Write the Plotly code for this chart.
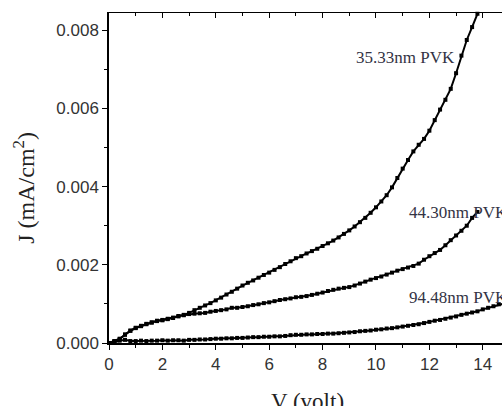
import plotly.graph_objects as go

# Voltage grids (V)
v_a = [0.0, 0.2, 0.4, 0.6, 0.8, 1.0, 1.2, 1.4, 1.6, 1.8, 2.0, 2.2, 2.4, 2.6, 2.8, 3.0, 3.2, 3.4, 3.6, 3.8,
       4.0, 4.2, 4.4, 4.6, 4.8, 5.0, 5.2, 5.4, 5.6, 5.8, 6.0, 6.2, 6.4, 6.6, 6.8, 7.0, 7.2, 7.4, 7.6, 7.8,
       8.0, 8.2, 8.4, 8.6, 8.8, 9.0, 9.2, 9.4, 9.6, 9.8, 10.0, 10.2, 10.4, 10.6, 10.8, 11.0, 11.2, 11.4, 11.6, 11.8,
       12.0, 12.2, 12.4, 12.6, 12.8, 13.0, 13.2, 13.4, 13.6, 13.8]
v_c = v_a + [14.0, 14.2, 14.4, 14.6, 14.8, 15.0]

# Current density J (mA/cm^2)
j_35 = [0.00000, 0.00004, 0.00010, 0.00022, 0.00032, 0.00039, 0.00044, 0.00048, 0.00053, 0.00056,
        0.00059, 0.00062, 0.00065, 0.00068, 0.00072, 0.00077, 0.00084, 0.00090, 0.00096, 0.00102,
        0.00109, 0.00116, 0.00124, 0.00131, 0.00139, 0.00147, 0.00154, 0.00160, 0.00167, 0.00174,
        0.00180, 0.00187, 0.00194, 0.00202, 0.00209, 0.00217, 0.00222, 0.00229, 0.00235, 0.00241,
        0.00248, 0.00255, 0.00262, 0.00270, 0.00279, 0.00288, 0.00298, 0.00309, 0.00320, 0.00333,
        0.00347, 0.00362, 0.00378, 0.00398, 0.00422, 0.00446, 0.00468, 0.00490, 0.00507, 0.00522,
        0.00543, 0.00570, 0.00597, 0.00622, 0.00650, 0.00690, 0.00735, 0.00775, 0.00808, 0.00842]

j_44 = [0.00000, 0.00005, 0.00011, 0.00021, 0.00031, 0.00038, 0.00043, 0.00049, 0.00052, 0.00057,
        0.00058, 0.00061, 0.00064, 0.00069, 0.00071, 0.00074, 0.00075, 0.00076, 0.00077, 0.00080,
        0.00082, 0.00084, 0.00086, 0.00090, 0.00090, 0.00092, 0.00094, 0.00097, 0.00099, 0.00102,
        0.00104, 0.00107, 0.00110, 0.00112, 0.00114, 0.00117, 0.00118, 0.00120, 0.00123, 0.00126,
        0.00129, 0.00133, 0.00136, 0.00139, 0.00141, 0.00143, 0.00147, 0.00152, 0.00157, 0.00162,
        0.00166, 0.00170, 0.00175, 0.00180, 0.00185, 0.00189, 0.00193, 0.00197, 0.00203, 0.00213,
        0.00222, 0.00230, 0.00238, 0.00250, 0.00263, 0.00275, 0.00287, 0.00300, 0.00320, 0.00335]

j_94 = [0.00000, 0.00003, 0.00006, 0.00008, 0.00005, 0.00005, 0.00006, 0.00005, 0.00006, 0.00006,
        0.00007, 0.00006, 0.00007, 0.00007, 0.00006, 0.00008, 0.00008, 0.00009, 0.00009, 0.00010,
        0.00011, 0.00011, 0.00012, 0.00012, 0.00013, 0.00013, 0.00014, 0.00015, 0.00015, 0.00016,
        0.00016, 0.00017, 0.00017, 0.00018, 0.00020, 0.00021, 0.00021, 0.00022, 0.00022, 0.00023,
        0.00023, 0.00024, 0.00024, 0.00025, 0.00026, 0.00027, 0.00028, 0.00030, 0.00031, 0.00032,
        0.00034, 0.00035, 0.00037, 0.00038, 0.00040, 0.00042, 0.00044, 0.00046, 0.00048, 0.00051,
        0.00054, 0.00057, 0.00059, 0.00062, 0.00065, 0.00068, 0.00072, 0.00075, 0.00078, 0.00081,
        0.00086, 0.00090, 0.00094, 0.00099, 0.00101, 0.00103]

labels = ["35.33nm PVK", "44.30nm PVK", "94.48nm PVK"]
x_ticks = [0, 2, 4, 6, 8, 10, 12, 14]
y_ticks = [0.000, 0.002, 0.004, 0.006, 0.008]
y_tick_text = ["0.000", "0.002", "0.004", "0.006", "0.008"]

fig = go.Figure()
for v, j in [(v_a, j_35), (v_a, j_44), (v_c, j_94)]:
    fig.add_trace(go.Scatter(
        x=v, y=j, mode="lines+markers",
        line=dict(color="black", width=2),
        marker=dict(symbol="square", size=4, color="black"),
        showlegend=False, cliponaxis=False,
    ))

# invisible trace on top axis for inward ticks
fig.add_trace(go.Scatter(x=[0], y=[0], xaxis="x2", mode="markers",
                         marker=dict(opacity=0), showlegend=False, hoverinfo="skip"))

tick_font = dict(family="Liberation Sans, Arial, sans-serif", size=17, color="#333333")
serif = "Liberation Serif, Times New Roman, serif"

fig.update_layout(
    width=502, height=406,
    margin=dict(l=109, r=0, t=13, b=63),
    paper_bgcolor="white", plot_bgcolor="white",
    xaxis=dict(
        range=[0, 14.72], tickvals=x_ticks, ticks="outside", ticklen=5, tickwidth=1.3,
        tickcolor="black", showline=True, linecolor="black", linewidth=1.5,
        showgrid=False, zeroline=False, tickfont=tick_font,
        minor=dict(dtick=1, ticks="outside", ticklen=3, tickcolor="black", showgrid=False),
    ),
    xaxis2=dict(
        range=[0, 14.72], overlaying="x", side="top", tickvals=x_ticks, ticks="inside",
        ticklen=5, tickwidth=1.3, tickcolor="black", showline=True, linecolor="black",
        linewidth=1.2, showgrid=False, zeroline=False, showticklabels=False,
        minor=dict(dtick=1, ticks="inside", ticklen=3, tickcolor="black", showgrid=False),
    ),
    yaxis=dict(
        range=[0, 0.00844], tickvals=y_ticks, ticktext=y_tick_text, ticks="outside",
        ticklen=5, tickwidth=1.3, tickcolor="black", showline=True, linecolor="black",
        linewidth=1.5, showgrid=False, zeroline=False, tickfont=tick_font,
        minor=dict(dtick=0.001, ticks="outside", ticklen=3, tickcolor="black", showgrid=False),
    ),
    annotations=[
        dict(x=13.02, y=0.0073, xref="x", yref="y", text=labels[0], showarrow=False,
             xanchor="right", yanchor="middle", font=dict(family=serif, size=17, color="#333344")),
        dict(x=11.16, y=0.00335, xref="x", yref="y", text=labels[1], showarrow=False,
             xanchor="left", yanchor="middle", font=dict(family=serif, size=17, color="#333344")),
        dict(x=11.16, y=0.00117, xref="x", yref="y", text=labels[2], showarrow=False,
             xanchor="left", yanchor="middle", font=dict(family=serif, size=17, color="#333344")),
        dict(x=-0.215, y=0.469, xref="paper", yref="paper", text="J (mA/cm<sup>2</sup>)",
             textangle=-90, showarrow=False, xanchor="center", yanchor="middle",
             font=dict(family=serif, size=24, color="#222222")),
        dict(x=0.504, y=-0.177, xref="paper", yref="paper", text="V (volt)",
             showarrow=False, xanchor="center", yanchor="middle",
             font=dict(family=serif, size=23, color="#222222")),
    ],
)

fig.write_html("out.html", config={"displayModeBar": False},
               post_script="document.body.style.margin='0';")
